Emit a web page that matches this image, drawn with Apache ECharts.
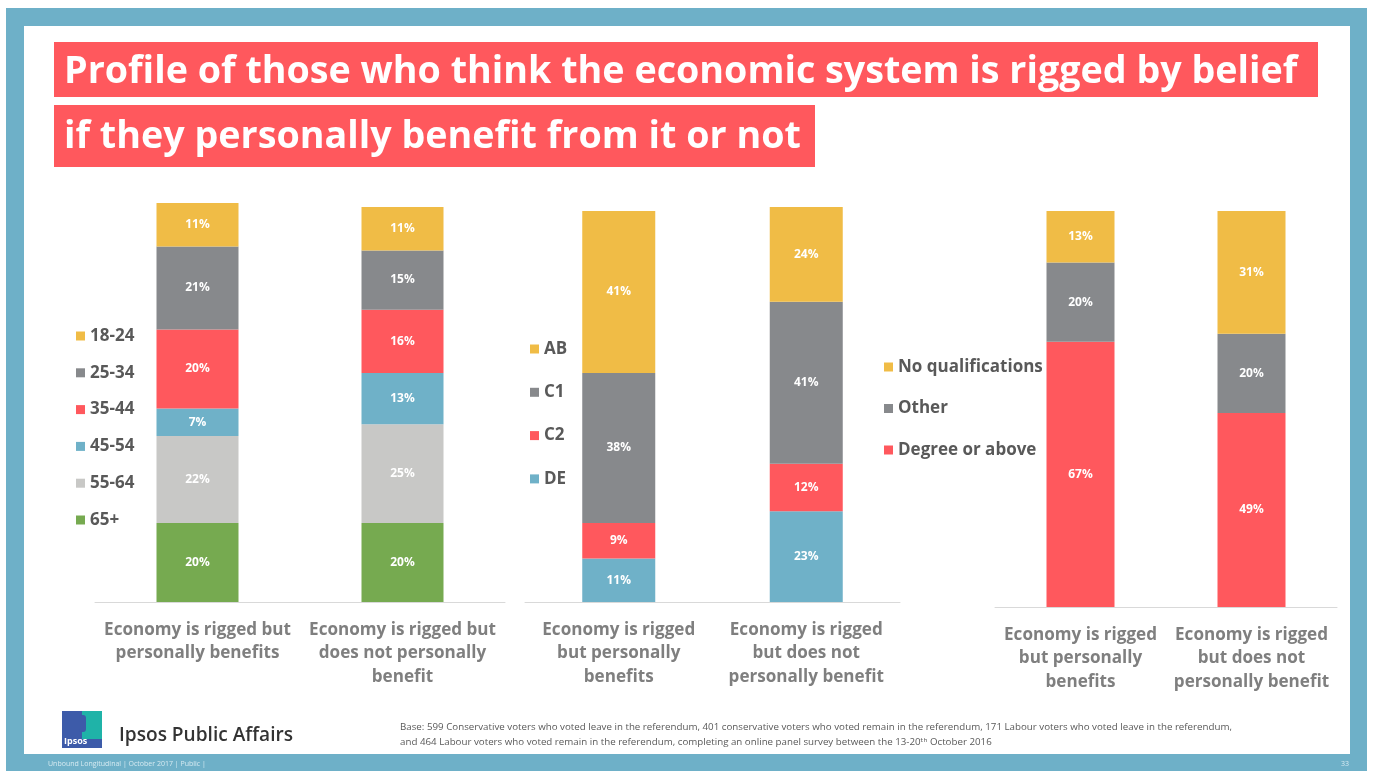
<!DOCTYPE html>
<html>
<head>
<meta charset="utf-8">
<script src="https://cdn.jsdelivr.net/npm/echarts@6/dist/echarts.min.js"></script>
<style>
  html, body { margin: 0; padding: 0; background: #ffffff; }
  #chart { width: 1375px; height: 771px; }
</style>
</head>
<body>
<div id="chart"></div>
<script>
// ---- Data -------------------------------------------------------------
const ageCategories = ['Economy is rigged but\npersonally benefits', 'Economy is rigged but\ndoes not personally\nbenefit'];
const groupCategories = ['Economy is rigged\nbut personally\nbenefits', 'Economy is rigged\nbut does not\npersonally benefit'];

// Age bands (top of legend first)
const ageNames = ['18-24', '25-34', '35-44', '45-54', '55-64', '65+'];
const age18to24 = [11, 11];
const age25to34 = [21, 15];
const age35to44 = [20, 16];
const age45to54 = [7, 13];
const age55to64 = [22, 25];
const age65plus = [20, 20];

// Social grade
const gradeNames = ['AB', 'C1', 'C2', 'DE'];
const gradeAB = [41, 24];
const gradeC1 = [38, 41];
const gradeC2 = [9, 12];
const gradeDE = [11, 23];

// Education
const eduNames = ['No qualifications', 'Other', 'Degree or above'];
const eduNone = [13, 31];
const eduOther = [20, 20];
const eduDegree = [67, 49];

const titleLine1 = 'Profile of those who think the economic system is rigged by belief';
const titleLine2 = 'if they personally benefit from it or not';
const baseNote1 = 'Base: 599 Conservative voters who voted leave in the referendum, 401 conservative voters who voted remain in the referendum, 171 Labour voters who voted leave in the referendum,';
const baseNote2 = 'and 464 Labour voters who voted remain in the referendum, completing an online panel survey between the 13-20\u1d57\u02b0 October 2016';
const footerText = 'Unbound Longitudinal | October 2017 | Public |';
const pageNumber = '33';

// ---- Palette ----------------------------------------------------------
const C = {
  yellow: '#F0BC46', grey: '#87898C', red: '#FF585D', blue: '#6FB1C8',
  light: '#C8C8C6', green: '#76AA50', frame: '#6EB0C8', text: '#595959', axis: '#7F7F7F'
};

const FONT = '"Open Sans", "DejaVu Sans", sans-serif';

// Font-size helper: fits a string to a given pixel width
const measureCtx = document.createElement('canvas').getContext('2d');
function fitSize(text, weight, family, width) {
  measureCtx.font = weight + ' 100px ' + family;
  return 100 * width / measureCtx.measureText(text).width;
}
function textWidth(text, weight, size, family) {
  measureCtx.font = weight + ' ' + size + 'px ' + family;
  return measureCtx.measureText(text).width;
}

const titleSize = fitSize(titleLine1, 'bold', '"Open Sans"', 1234);
const noteSize = 9.5;
const noteScale = 832 / textWidth(baseNote1, 'normal', noteSize, '"Open Sans"');
const brandSize = fitSize('Ipsos Public Affairs', '600', '"Open Sans"', 174);
const axisSize = fitSize('Economy is rigged but', 'bold', '"Open Sans"', 187);

// ---- Series builder ---------------------------------------------------
function barSeries(name, values, color, axisIndex, stack, width) {
  return {
    name: name,
    type: 'bar',
    stack: stack,
    xAxisIndex: axisIndex,
    yAxisIndex: axisIndex,
    data: values,
    barWidth: width,
    clip: false,
    itemStyle: { color: color },
    label: {
      show: true,
      position: 'inside',
      formatter: '{c}%',
      color: '#ffffff',
      fontSize: 12,
      fontWeight: 'bold',
      fontFamily: FONT
    },
    emphasis: { disabled: true }
  };
}

const series = [
  // age, stacked bottom-up
  barSeries('65+', age65plus, C.green, 0, 'age', 82),
  barSeries('55-64', age55to64, C.light, 0, 'age', 82),
  barSeries('45-54', age45to54, C.blue, 0, 'age', 82),
  barSeries('35-44', age35to44, C.red, 0, 'age', 82),
  barSeries('25-34', age25to34, C.grey, 0, 'age', 82),
  barSeries('18-24', age18to24, C.yellow, 0, 'age', 82),
  // social grade
  barSeries('DE', gradeDE, C.blue, 1, 'grade', 73),
  barSeries('C2', gradeC2, C.red, 1, 'grade', 73),
  barSeries('C1', gradeC1, C.grey, 1, 'grade', 73),
  barSeries('AB', gradeAB, C.yellow, 1, 'grade', 73),
  // education
  barSeries('Degree or above', eduDegree, C.red, 2, 'edu', 68),
  barSeries('Other', eduOther, C.grey, 2, 'edu', 68),
  barSeries('No qualifications', eduNone, C.yellow, 2, 'edu', 68)
];

function xAxis(idx, cats) {
  return {
    type: 'category',
    gridIndex: idx,
    data: cats,
    axisLine: { show: true, lineStyle: { color: '#D9D9D9', width: 1 } },
    axisTick: { show: false },
    axisLabel: {
      interval: 0,
      margin: 16,
      color: C.axis,
      fontSize: axisSize,
      fontWeight: 'bold',
      lineHeight: 23.5,
      fontFamily: FONT
    }
  };
}
function yAxis(idx) {
  return { type: 'value', gridIndex: idx, min: 0, max: 100, show: false };
}
function legend(names, left, top, gap) {
  return {
    data: names,
    orient: 'vertical',
    left: left,
    top: top,
    padding: 0,
    icon: 'rect',
    itemWidth: 9,
    itemHeight: 9,
    itemGap: gap,
    selectedMode: false,
    textStyle: { color: C.text, fontSize: 17, fontWeight: 'bold', lineHeight: 18, fontFamily: FONT }
  };
}

const option = {
  animation: false,
  backgroundColor: '#ffffff',
  grid: [
    { left: 95, width: 410, top: 207, height: 395 },
    { left: 525, width: 375, top: 207, height: 395 },
    { left: 995, width: 342, top: 211, height: 396 }
  ],
  xAxis: [xAxis(0, ageCategories), xAxis(1, groupCategories), xAxis(2, groupCategories)],
  yAxis: [yAxis(0), yAxis(1), yAxis(2)],
  legend: [
    legend(ageNames, 76, 327, 18.8),
    legend(gradeNames, 530, 340, 25.3),
    legend(eduNames, 884, 358, 23.5)
  ],
  series: series,
  graphic: [
    // slide frame
    { type: 'rect', z: -10, shape: { x: 6, y: 8, width: 1361, height: 763 }, style: { fill: C.frame } },
    { type: 'rect', z: -9, shape: { x: 24, y: 26, width: 1326, height: 728 }, style: { fill: '#ffffff' } },
    // title boxes
    { type: 'rect', z: -8, shape: { x: 54, y: 42, width: 1264, height: 55 }, style: { fill: C.red } },
    { type: 'rect', z: -8, shape: { x: 54, y: 105, width: 761, height: 62 }, style: { fill: C.red } },
    { type: 'text', z: 5, x: 64, y: 72, style: { text: titleLine1, fill: '#ffffff', font: 'bold ' + titleSize.toFixed(2) + 'px ' + FONT, textVerticalAlign: 'middle' } },
    { type: 'text', z: 5, x: 64, y: 137, style: { text: titleLine2, fill: '#ffffff', font: 'bold ' + titleSize.toFixed(2) + 'px ' + FONT, textVerticalAlign: 'middle' } },
    // Ipsos logo
    { type: 'rect', z: 5, shape: { x: 62, y: 711, width: 40, height: 37 }, style: { fill: '#3D5BA9' } },
    { type: 'rect', z: 5, shape: { x: 82, y: 711, width: 20, height: 28 }, style: { fill: '#1FB3A8' } },
    { type: 'rect', z: 6, shape: { x: 79, y: 715, width: 7, height: 17, r: 3 }, style: { fill: '#3D5BA9' } },
    { type: 'text', z: 7, x: 64, y: 741, style: { text: 'Ipsos', fill: '#ffffff', font: 'bold 9px ' + FONT, textVerticalAlign: 'middle' } },
    { type: 'text', z: 5, x: 119, y: 736, style: { text: 'Ipsos Public Affairs', fill: '#333333', font: '600 ' + brandSize.toFixed(2) + 'px ' + FONT, textVerticalAlign: 'middle' } },
    // base note
    { type: 'text', z: 5, x: 400, y: 727, scaleX: noteScale, style: { text: baseNote1, fill: C.text, font: noteSize + 'px ' + FONT, textVerticalAlign: 'middle' } },
    { type: 'text', z: 5, x: 400, y: 742, scaleX: noteScale, style: { text: baseNote2, fill: C.text, font: noteSize + 'px ' + FONT, textVerticalAlign: 'middle' } },
    // footer strip text
    { type: 'text', z: 5, x: 48, y: 764, style: { text: footerText, fill: '#D6EAF1', font: '7px ' + FONT, textVerticalAlign: 'middle' } },
    { type: 'text', z: 5, x: 1341, y: 764, style: { text: pageNumber, fill: '#D6EAF1', font: '7px ' + FONT, textVerticalAlign: 'middle' } }
  ]
};

const chart = echarts.init(document.getElementById('chart'), null, { renderer: 'canvas' });
chart.setOption(option);
</script>
</body>
</html>
